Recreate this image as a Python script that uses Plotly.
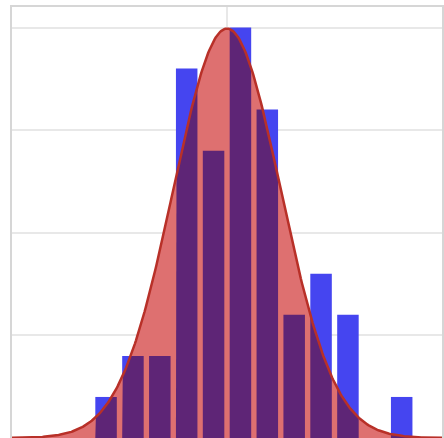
import numpy as np
import plotly.graph_objects as go

# Histogram data
bin_edges = [-2.5, -2.0, -1.5, -1.0, -0.5, 0.0, 0.5, 1.0, 1.5, 2.0, 2.5, 3.0, 3.5]
counts = [1, 2, 2, 9, 7, 10, 8, 3, 4, 3, 0, 1]
n_total = sum(counts)
bin_w = 0.5
density = [c / (n_total * bin_w) for c in counts]
centers = [(bin_edges[i] + bin_edges[i + 1]) / 2 for i in range(len(counts))]

# Normal curve parameters
mu, sigma = 0.0, 1.0
x_range = [-4, 4]
y_range = [0, 0.42]
bargap = 0.2

BLUE = "#4545F0"
SALMON = "#DE7070"
PURPLE = "#5E2576"
LINE = "#B83028"

def pdf(x):
    return np.exp(-0.5 * ((x - mu) / sigma) ** 2) / (sigma * np.sqrt(2 * np.pi))

xs = np.linspace(x_range[0], x_range[1], 400)
ys = pdf(xs)

fig = go.Figure()
bw = bin_w * (1 - bargap)
fig.add_trace(go.Bar(x=centers, y=density, width=[bw] * len(counts),
                     marker=dict(color=BLUE, line=dict(width=0)), hoverinfo="skip"))
fig.add_trace(go.Scatter(x=xs, y=ys, mode="lines", fill="tozeroy",
                         fillcolor=SALMON, line=dict(width=0), hoverinfo="skip"))
# overlap regions: bar intersected with area under curve
for c, d in zip(centers, density):
    if d <= 0:
        continue
    xl, xr = c - bw / 2, c + bw / 2
    px = np.linspace(xl, xr, 40)
    py = np.minimum(pdf(px), d)
    polyx = [xl] + list(px) + [xr, xl]
    polyy = [0] + list(py) + [0, 0]
    fig.add_trace(go.Scatter(x=polyx, y=polyy, mode="lines", fill="toself",
                             fillcolor=PURPLE, line=dict(width=0), hoverinfo="skip"))
fig.add_trace(go.Scatter(x=xs, y=ys, mode="lines",
                         line=dict(color=LINE, width=2.5), hoverinfo="skip"))

fig.update_layout(
    width=444, height=438,
    margin=dict(l=12, r=2, t=7, b=0),
    paper_bgcolor="white", plot_bgcolor="white",
    showlegend=False, bargap=bargap,
    xaxis=dict(range=x_range, tickvals=[0], showticklabels=False, side="top",
               showgrid=True, gridcolor="#e8e8e8", gridwidth=1.5, zeroline=False,
               showline=True, linecolor="#d6d6d6", linewidth=2, ticks=""),
    yaxis=dict(range=y_range, tickvals=[0.1, 0.2, 0.3, 0.4], showticklabels=False,
               showgrid=True, gridcolor="#e8e8e8", gridwidth=1.5, zeroline=False,
               showline=True, mirror=True, linecolor="#d6d6d6", linewidth=2, ticks=""),
)
fig.write_html("out.html", config={"displayModeBar": False},
               post_script="document.body.style.margin='0';document.body.style.overflow='hidden';")
